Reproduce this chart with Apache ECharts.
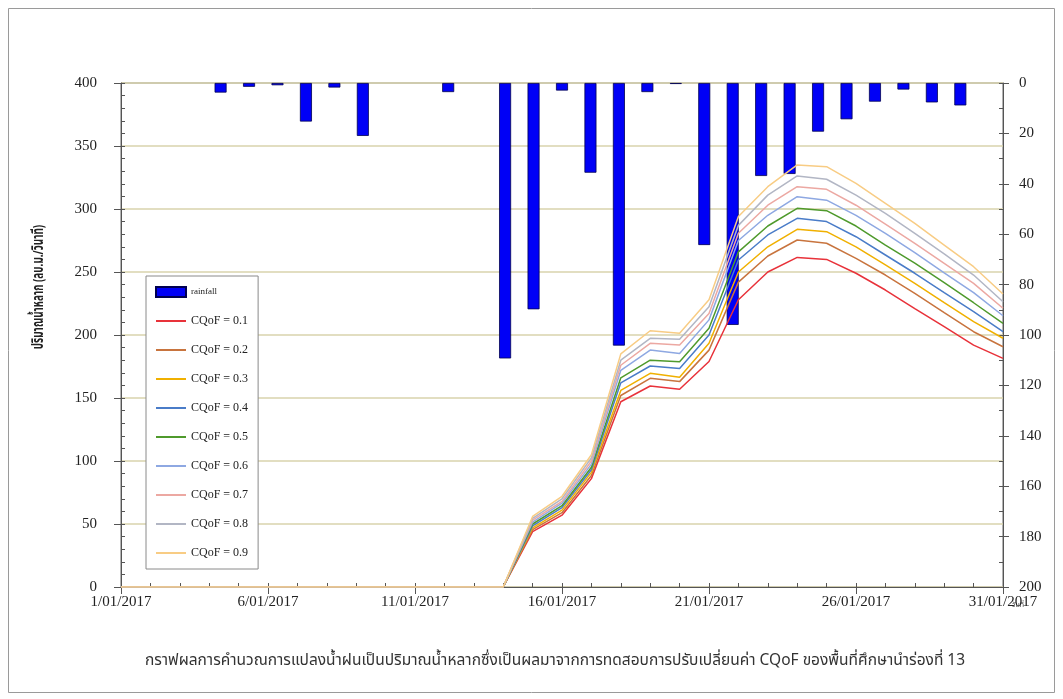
<!DOCTYPE html>
<html>
<head>
<meta charset="utf-8">
<script src="https://cdn.jsdelivr.net/npm/echarts@6/dist/echarts.min.js"></script>
<style>
  html, body { margin: 0; padding: 0; background: #ffffff; }
  #chart { width: 1063px; height: 699px; }
</style>
</head>
<body>
<div id="chart"></div>
<script>
// Dates of January 2017 (one category per day)
const dates = [
  '1/01/2017','2/01/2017','3/01/2017','4/01/2017','5/01/2017','6/01/2017','7/01/2017','8/01/2017',
  '9/01/2017','10/01/2017','11/01/2017','12/01/2017','13/01/2017','14/01/2017','15/01/2017','16/01/2017',
  '17/01/2017','18/01/2017','19/01/2017','20/01/2017','21/01/2017','22/01/2017','23/01/2017','24/01/2017',
  '25/01/2017','26/01/2017','27/01/2017','28/01/2017','29/01/2017','30/01/2017','31/01/2017'
];

// Daily rainfall (mm), plotted downward on the right axis
const rainfall = [0, 0, 0, 3.8, 1.5, 0.9, 15.3, 1.8, 21, 0, 0, 3.6, 0, 109.3, 89.8, 3,
  35.6, 104.2, 3.6, 0.4, 64.3, 96, 36.9, 36.1, 19.3, 14.4, 7.4, 2.6, 7.7, 8.9, 0];

// Simulated runoff (m3/s) for each CQoF value
const cqof01 = [0,0,0,0,0,0,0,0,0,0,0,0,0,0, 44, 57, 86, 147, 159.5, 157, 179, 228, 250, 261.6, 260, 249, 235.7, 221, 206.6, 192, 181.5];
const cqof02 = [0,0,0,0,0,0,0,0,0,0,0,0,0,0, 45.5, 59, 88.5, 152, 165.6, 163, 188, 242, 262.7, 275.4, 272.8, 260.8, 247.6, 233, 217.7, 202.6, 190.7];
const cqof03 = [0,0,0,0,0,0,0,0,0,0,0,0,0,0, 47, 61, 91, 156, 169.6, 166.4, 193.4, 250, 270, 283.9, 282, 270, 255.6, 241, 225.6, 210.6, 197.4];
const cqof04 = [0,0,0,0,0,0,0,0,0,0,0,0,0,0, 48.5, 63, 93, 162, 175.4, 173.5, 200, 259.5, 279.4, 292.6, 290, 278, 263.5, 249, 233.6, 218.5, 202.6];
const cqof05 = [0,0,0,0,0,0,0,0,0,0,0,0,0,0, 50, 64.5, 95, 166, 180, 178.8, 205.3, 266, 286.5, 300.5, 298.7, 286.5, 271.4, 257, 241.5, 225.6, 209.3];
const cqof06 = [0,0,0,0,0,0,0,0,0,0,0,0,0,0, 51.5, 66.5, 97.5, 172, 188, 185.4, 212, 275, 295, 309.8, 307, 295, 280.7, 265.3, 249.4, 233.6, 215.3];
const cqof07 = [0,0,0,0,0,0,0,0,0,0,0,0,0,0, 53, 68, 100, 176, 193.4, 192, 217, 280.7, 303, 317.7, 315.6, 303, 288, 272.8, 256.9, 241, 221.2];
const cqof08 = [0,0,0,0,0,0,0,0,0,0,0,0,0,0, 54.5, 70, 102.5, 180, 197.4, 196.6, 222.5, 287, 311, 326.2, 323.6, 311, 296.6, 280.7, 264.3, 247.6, 226.4];
const cqof09 = [0,0,0,0,0,0,0,0,0,0,0,0,0,0, 56, 72, 105, 185, 203.4, 201.3, 228, 294, 317.7, 335, 333.6, 320.4, 304.5, 288.6, 271.4, 254.2, 232.5];

const runoffNames = ['CQoF = 0.1','CQoF = 0.2','CQoF = 0.3','CQoF = 0.4','CQoF = 0.5',
  'CQoF = 0.6','CQoF = 0.7','CQoF = 0.8','CQoF = 0.9'];
const runoffData = [cqof01, cqof02, cqof03, cqof04, cqof05, cqof06, cqof07, cqof08, cqof09];
const runoffColors = ['#e8323a','#c8743e','#f0b000','#4a7cc8','#4f9a2c',
  '#8ea8e2','#eca8a2','#b2b6c4','#f8cc84'];

const leftTicks = [0, 400, 50];   // min, max, interval
const rightTicks = [0, 200, 20];

const serif = '"Liberation Serif", "DejaVu Serif", serif';
const thai = 'Tahoma, "Noto Sans Thai", "Noto Sans", "DejaVu Sans", sans-serif';

const chart = echarts.init(document.getElementById('chart'), null, { renderer: 'canvas' });

const lineSeries = runoffNames.map((name, i) => ({
  name: name,
  type: 'line',
  xAxisIndex: 0,
  yAxisIndex: 0,
  data: runoffData[i],
  symbol: 'none',
  z: 3,
  lineStyle: { color: runoffColors[i], width: 1.5 },
  itemStyle: { color: runoffColors[i] }
}));

const plotBox = { left: 121, right: 60, top: 83, bottom: 112 };
const tickColor = '#555';

const option = {
  animation: false,
  backgroundColor: '#ffffff',
  grid: [
    Object.assign({ show: true, borderColor: '#666', borderWidth: 1, backgroundColor: 'transparent' }, plotBox),
    // second grid on the same box, only for the small inside tick marks
    Object.assign({ show: false }, plotBox)
  ],
  legend: {
    orient: 'vertical',
    left: 146, top: 276,
    padding: [10, 10, 10, 9],
    itemWidth: 30, itemHeight: 10, itemGap: 17,
    backgroundColor: '#ffffff',
    borderColor: '#8a8a8a', borderWidth: 1,
    textStyle: { fontFamily: serif, fontSize: 12, color: '#222' },
    data: [
      { name: 'rainfall', icon: 'rect', textStyle: { fontSize: 9 } }
    ].concat(runoffNames.map(n => ({ name: n, itemStyle: { opacity: 0 } })))
  },
  xAxis: [
    {
      gridIndex: 0, type: 'category', data: dates, boundaryGap: false, position: 'bottom',
      axisLine: { lineStyle: { color: tickColor, width: 1 } },
      axisTick: { interval: 4, length: 7, lineStyle: { color: tickColor } },
      axisLabel: { interval: 4, fontFamily: serif, fontSize: 15, color: '#222', margin: 8 },
      splitLine: { show: false }
    },
    {
      gridIndex: 1, type: 'category', data: dates, boundaryGap: false, position: 'bottom',
      axisLine: { show: false },
      axisTick: { interval: 0, inside: true, length: 4, lineStyle: { color: tickColor } },
      axisLabel: { show: false },
      splitLine: { show: false }
    },
    {
      // category axis for the rainfall bars (bars centred in each day slot)
      gridIndex: 0, type: 'category', data: dates, boundaryGap: true, show: false
    }
  ],
  yAxis: [
    {
      gridIndex: 0, type: 'value', position: 'left',
      min: leftTicks[0], max: leftTicks[1], interval: leftTicks[2],
      axisLine: { show: true, lineStyle: { color: tickColor } },
      axisTick: { show: true, length: 7, lineStyle: { color: tickColor } },
      axisLabel: { fontFamily: serif, fontSize: 15, color: '#222', margin: 24 },
      splitLine: { show: true, lineStyle: { color: '#d8d3ad', width: 1.5 } }
    },
    {
      gridIndex: 0, type: 'value', position: 'right',
      min: rightTicks[0], max: rightTicks[1], interval: rightTicks[2], inverse: true,
      axisLine: { show: true, lineStyle: { color: tickColor } },
      axisTick: { show: true, length: 6, lineStyle: { color: tickColor } },
      axisLabel: { fontFamily: serif, fontSize: 15, color: '#222', margin: 16 },
      splitLine: { show: false }
    },
    {
      gridIndex: 1, type: 'value', position: 'left', min: 0, max: 400, interval: 10,
      axisLine: { show: false },
      axisTick: { show: true, inside: true, length: 4, lineStyle: { color: tickColor } },
      axisLabel: { show: false }, splitLine: { show: false }
    },
    {
      gridIndex: 1, type: 'value', position: 'right', min: 0, max: 200, interval: 10, inverse: true,
      axisLine: { show: false },
      axisTick: { show: true, inside: true, length: 4, lineStyle: { color: tickColor } },
      axisLabel: { show: false }, splitLine: { show: false }
    }
  ],
  series: [
    {
      name: 'rainfall',
      type: 'bar',
      xAxisIndex: 2,
      yAxisIndex: 1,
      // days without rain get no bar
      data: rainfall.map(v => (v > 0 ? v : '-')),
      barWidth: 12,
      z: 2,
      itemStyle: { color: '#0000f6', borderColor: '#000050', borderWidth: 0.8 }
    }
  ].concat(lineSeries),
  graphic: [
    {
      type: 'rect', silent: true, z: -10,
      shape: { x: 8.5, y: 8.5, width: 1046, height: 684 },
      style: { fill: 'none', stroke: '#9a9a9a', lineWidth: 1 }
    },
    {
      type: 'text', x: 40, y: 287, rotation: Math.PI / 2, scaleX: 0.66,
      style: {
        text: 'ปริมาณน้ำหลาก (ลบ.ม./วินาที)',
        font: 'bold 15px ' + thai,
        fill: '#222', align: 'center', verticalAlign: 'middle'
      }
    },
    {
      type: 'text', x: 555, y: 662,
      style: {
        text: 'กราฟผลการคำนวณการแปลงน้ำฝนเป็นปริมาณน้ำหลากซึ่งเป็นผลมาจากการทดสอบการปรับเปลี่ยนค่า CQoF ของพื้นที่ศึกษานำร่องที่ 13',
        font: '15.5px ' + thai,
        fill: '#333', align: 'center', verticalAlign: 'middle'
      }
    },
    {
      type: 'text', x: 1018, y: 606,
      style: {
        text: 'วันที่', font: '7px ' + thai,
        fill: '#444', align: 'center', verticalAlign: 'middle'
      }
    }
  ]
};

chart.setOption(option);
</script>
</body>
</html>
